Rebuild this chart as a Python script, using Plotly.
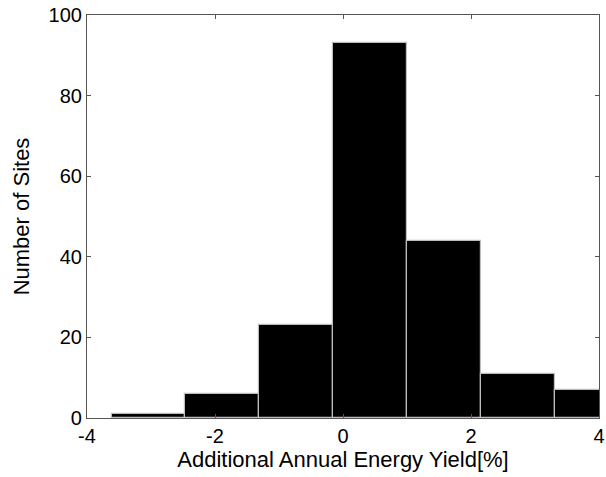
import plotly.graph_objects as go

# Histogram bin centers (Additional Annual Energy Yield [%]) and counts
bin_centers = [-3.04, -1.886, -0.733, 0.421, 1.575, 2.728, 3.882]
bin_width = 1.1536
counts = [1, 6, 23, 93, 44, 11, 7]

x_ticks = [-4, -2, 0, 2, 4]
y_ticks = [0, 20, 40, 60, 80, 100]

fig = go.Figure()
fig.add_trace(go.Bar(
    x=bin_centers,
    y=counts,
    width=[bin_width] * len(bin_centers),
    marker=dict(color="black", line=dict(color="#bdbdbd", width=1.2)),
))

font_family = "Liberation Sans, Arial, sans-serif"
fig.update_layout(
    width=606, height=477,
    margin=dict(l=87, r=7, t=15, b=59),
    paper_bgcolor="white", plot_bgcolor="white",
    showlegend=False,
    bargap=0,
    font=dict(family=font_family, size=20, color="black"),
)
fig.update_xaxes(
    range=[-4, 4], tickvals=x_ticks, ticktext=[str(v) for v in x_ticks],
    ticks="inside", ticklen=4, tickwidth=1, tickcolor="#555",
    showline=True, linecolor="#555", linewidth=1.2, mirror="allticks",
    showgrid=False, zeroline=False, ticklabeloverflow="allow", automargin=False,
    title=dict(text="Additional Annual Energy Yield[%]", font=dict(size=22), standoff=2),
    tickfont=dict(size=20),
)
fig.update_yaxes(
    range=[0, 100], tickvals=y_ticks, ticktext=[str(v) for v in y_ticks],
    ticks="inside", ticklen=4, tickwidth=1, tickcolor="#555",
    showline=True, linecolor="#555", linewidth=1.2, mirror="allticks",
    showgrid=False, zeroline=False, ticklabeloverflow="allow", automargin=False,
    title=dict(text="Number of Sites", font=dict(size=22), standoff=12),
    tickfont=dict(size=20),
)

fig.write_html("out.html")
